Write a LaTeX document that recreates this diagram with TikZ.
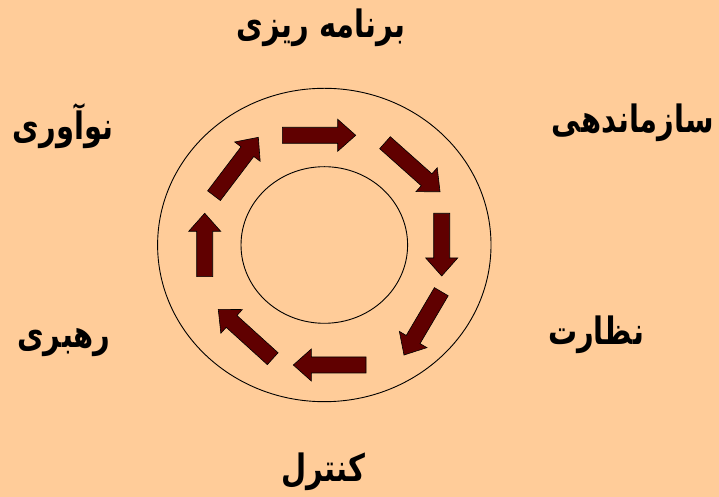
\documentclass[tikz,border=0pt]{standalone}
\usepackage{graphicx}
\usepackage{fontspec}
\newfontfamily\arabicfont[Script=Arabic]{DejaVu Sans}
\TeXXeTstate=1
\definecolor{bgpeach}{HTML}{FFCC99}
\definecolor{arrowred}{HTML}{600000}
\newcommand{\tallword}[1]{\scalebox{1}[1.3]{\beginR #1\endR}}
\tikzset{
  ring/.style={draw=black, line width=0.9pt},
  cyclearrow/.style={fill=arrowred, draw=black, line width=0.6pt, line join=miter},
  label/.style={font=\arabicfont\bfseries\fontsize{29}{34}\selectfont, inner sep=0pt}
}
\begin{document}
\begin{tikzpicture}[x=1pt,y=1pt]
\fill[bgpeach] (0,0) rectangle (719,497);
\useasboundingbox (0,0) rectangle (719,497);
% rings
\draw[ring] (324.3,252) ellipse [x radius=166.7, y radius=156.7];
\draw[ring] (324.3,252) ellipse [x radius=83.3, y radius=78.3];
% arrows: tail x, tail y, angle, length
\foreach \tx/\ty/\ang/\len in {
  282.3/361.7/0/73.4,
  385/354.3/-41.7/73.7,
  441.7/283.7/-90/62.7,
  441.3/205.3/-120.5/73.5,
  366/132/180/72.7,
  272.7/138.3/137.8/73.5,
  204.7/220.3/90/63.4,
  214/301.3/52.8/73.3}{
  \draw[cyclearrow, shift={(\tx,\ty)}, rotate=\ang]
    (0,-8) -- (\len-18,-8) -- (\len-18,-16) -- (\len,0) -- (\len-18,16) -- (\len-18,8) -- (0,8) -- cycle;
}
% labels
\node[label] (plan) at (321,469) {\tallword{برنامه ریزی}};
\node[label] (org) at (633,374) {\tallword{سازماندهی}};
\node[label] (sup) at (596,162) {\tallword{نظارت}};
\node[label] (ctrl) at (323,25) {\tallword{کنترل}};
\node[label] (lead) at (64,154) {\tallword{رهبری}};
\node[label] (innov) at (63,371) {\tallword{نوآوری}};
\end{tikzpicture}
\end{document}
